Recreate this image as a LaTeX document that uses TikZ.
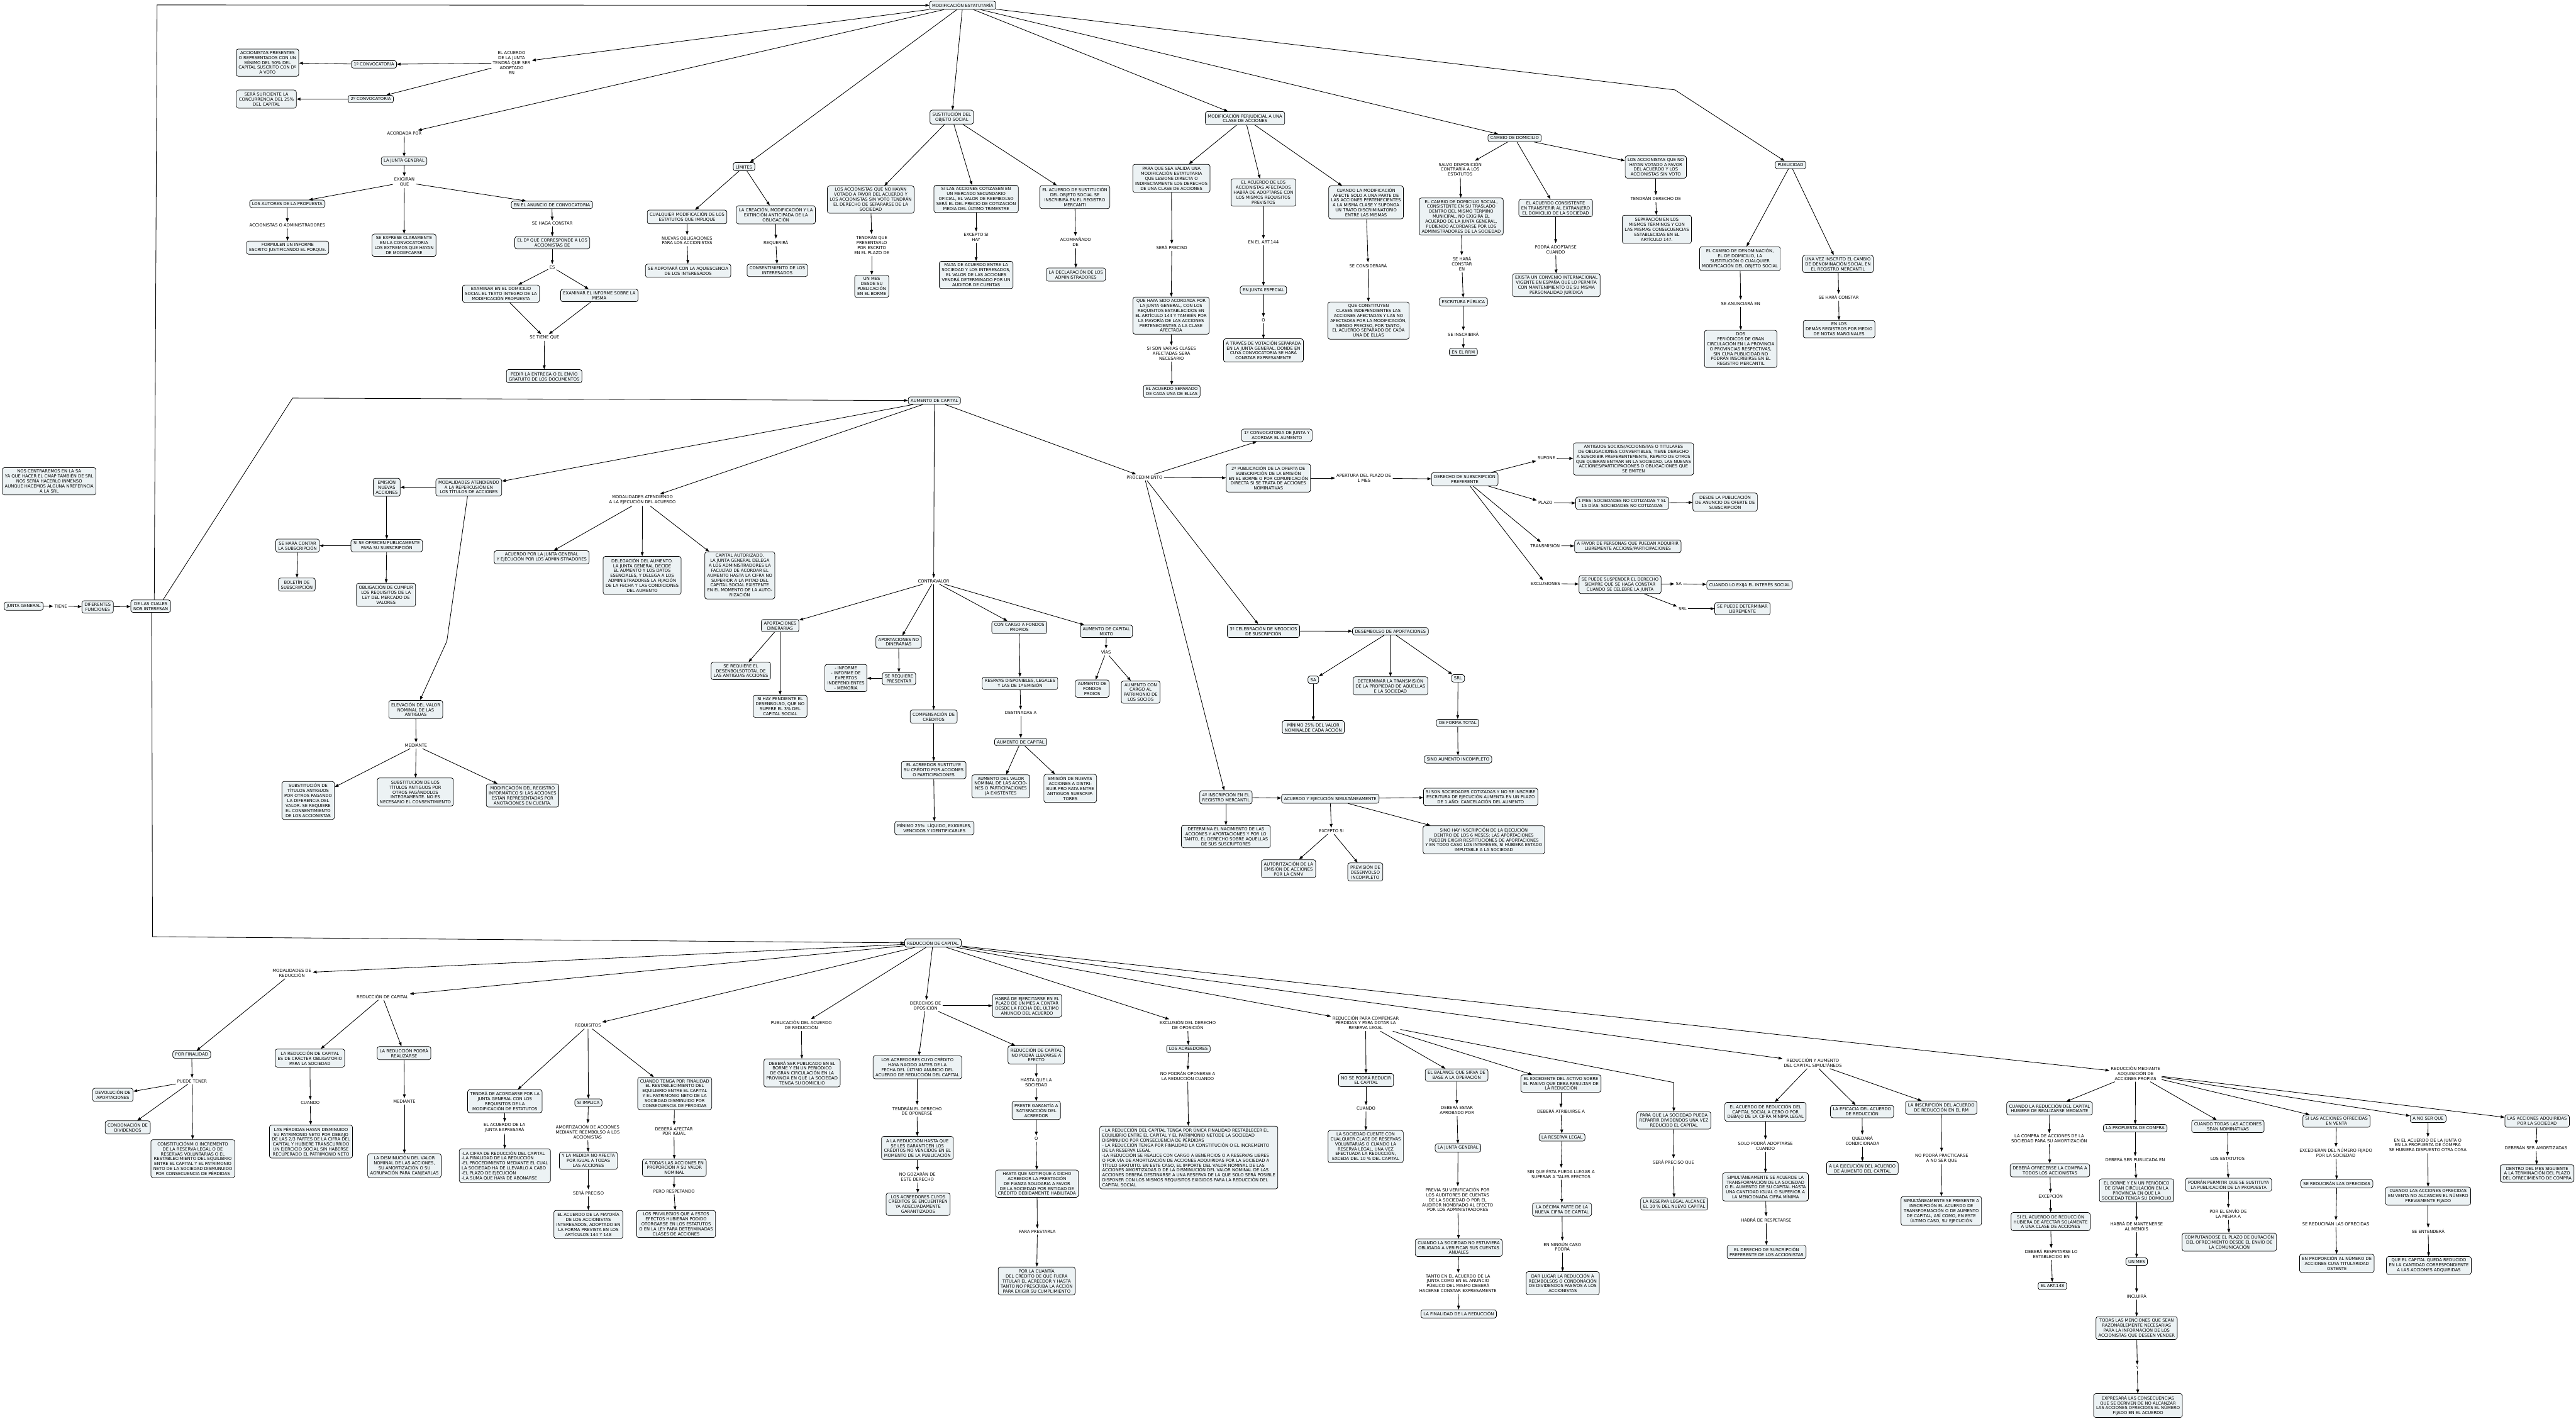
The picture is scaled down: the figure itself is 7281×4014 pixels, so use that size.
\documentclass[tikz,border=0pt]{standalone}
\usepackage{fontspec}
\setmainfont{DejaVu Sans}
\usetikzlibrary{arrows.meta}
\definecolor{nodefill}{RGB}{236,242,244}
\newcommand{\mapfont}{\fontsize{12}{14}\selectfont}
\tikzset{
  box/.style={draw=black, line width=1.3pt, rounded corners=6pt, fill=nodefill, align=center, inner xsep=7pt, inner ysep=6pt, font=\mapfont},
  lbl/.style={align=center, inner sep=4pt, font=\mapfont},
  arr/.style={draw=black, line width=1.5pt, -{Triangle[length=11pt,width=8pt]}},
}
\begin{document}
\begin{tikzpicture}[x=1pt,y=-1pt]
\fill[white] (0,0) rectangle (7281,4014);
\useasboundingbox (0,0) rectangle (7281,4014);

% ---------------- TOP BAND ----------------
\node[box] (modest) at (2721,15) {MODIFICACIÓN ESTATUTARÍA};
\node[lbl] (acjunta) at (1446,178) {EL ACUERDO\\DE LA JUNTA\\TENDRÁ QUE SER\\ADOPTADO\\EN};
\node[box] (conv1) at (1057,182) {1º CONVOCATORIA};
\node[box] (accpres) at (756,177) {ACCIONISTAS PRESENTES\\O REPRSENTADOS CON UN\\MÍNIMO DEL 50\% DEL\\CAPITAL SUSCRITO CON Dº\\A VOTO};
\node[box] (conv2) at (1048,280) {2º CONVOCATORIA};
\node[box] (sersuf) at (753,280) {SERÁ SUFICIENTE LA\\CONCURRENCIA DEL 25\%\\DEL CAPITAL};
\node[lbl] (acordada) at (1143,377) {ACORDADA POR};
\node[box] (jg1) at (1142,455) {LA JUNTA GENERAL};
\node[lbl] (exig) at (1143,515) {EXIGIRAN\\QUE};
\node[box] (autores) at (812,576) {LOS AUTORES DE LA PROPUESTA};
\node[lbl] (accadm) at (812,637) {ACCIONISTAS O ADMINISTRADORES};
\node[box] (formulen) at (813,700) {FORMULEN UN INFORME\\ESCRITO JUSTIFICANDO EL PORQUE.};
\node[box] (exprese) at (1142,693) {SE EXPRESE CLARAMENTE\\EN LA CONVOCATORIA\\LOS EXTREMOS QUE HAYAN\\DE MODIIFCARSE};
\node[box] (anuncio) at (1560,579) {EN EL ANUNCIO DE CONVOCATORIA};
\node[lbl] (hagacons) at (1561,632) {SE HAGA CONSTAR};
\node[box] (dcorresp) at (1561,686) {EL Dº QUE CORRESPONDE A LOS\\ACCIONISTAS DE};
\node[lbl] (es) at (1561,755) {ES};
\node[box] (exdom) at (1416,830) {EXAMINAR EN EL DOMICILIO\\SOCIAL EL TEXTO INTEGRO DE LA\\MODIFICACIÓN PROPUESTA};
\node[box] (exinf) at (1694,835) {EXAMINAR EL INFORME SOBRE LA\\MISMA};
\node[lbl] (setiene) at (1539,954) {SE TIENE QUE};
\node[box] (pedir) at (1538,1063) {PEDIR LA ENTREGA O EL ENVÍO\\GRATUITO DE LOS DOCUMENTOS};

\node[box] (limites) at (2103,471) {LÍMITES};
\node[box] (cualq) at (1942,613) {CUALQUIER MODIFICACIÓN DE LOS\\ESTATUTOS QUE IMPLIQUE};
\node[lbl] (nuevasob) at (1942,680) {NUEVAS OBLIGACIONES\\PARA LOS ACCIONISTAS};
\node[box] (aquies) at (1945,765) {SE ADPOTARÁ CON LA AQUIESCENCIA\\DE LOS INTERESADOS};
\node[box] (creacion) at (2193,607) {LA CREACIÓN, MODIFICACIÓN Y LA\\EXTINCIÓN ANTICIPADA DE LA\\OBLIGACIÓN};
\node[lbl] (requerira) at (2193,685) {REQUERIRÁ};
\node[box] (consent) at (2197,764) {CONSENTIMIENTO DE LOS\\INTERESADOS};

\node[box] (sustobj) at (2690,331) {SUSTITUCIÓN DEL\\OBJETO SOCIAL};
\node[box] (accnohayan) at (2461,564) {LOS ACCIONISTAS QUE NO HAYAN\\VOTADO A FAVOR DEL ACUERDO Y\\LOS ACCIONISTAS SIN VOTO TENDRÁN\\EL DERECHO DE SEPARARSE DE LA\\SOCIEDAD};
\node[lbl] (tendranq) at (2464,692) {TENDRÁN QUE\\PRESENTARLO\\POR ESCRITO\\EN EL PLAZO DE};
\node[box] (unmesa) at (2464,809) {UN MES\\DESDE SU\\PUBLICACIÓN\\EN EL BORME};
\node[box] (cotiz) at (2759,562) {SI LAS ACCIONES COTIZASEN EN\\UN MERCADO SECUNDARIO\\OFICIAL, EL VALOR DE REEMBOLSO\\SERÁ EL DEL PRECIO DE COTIZACIÓN\\MEDIA DEL ÚLTIMO TRIMESTRE};
\node[lbl] (exceptosi) at (2759,670) {EXCEPTO SI\\HAY};
\node[box] (falta) at (2759,777) {FALTA DE ACUERDO ENTRE LA\\SOCIEDAD Y LOS INTERESADOS,\\EL VALOR DE LAS ACCIONES\\VENDRÁ DETERMINADO POR UN\\AUDITOR DE CUENTAS};
\node[box] (acsust) at (3038,557) {EL ACUERDO DE SUSTITUCIÓN\\DEL OBJETO SOCIAL SE\\INSCRIBIRÁ EN EL REGISTRO\\MERCANTI};
\node[lbl] (acomp) at (3040,684) {ACOMPAÑADO\\DE};
\node[box] (declar) at (3041,776) {LA DECLARACIÓN DE LOS\\ADMINISTRADORES};

\node[box] (modperj) at (3519,334) {MODIFICACIÓN PERJUDICIAL A UNA\\CLASE DE ACCIONES};
\node[box] (paraq) at (3311,504) {PARA QUE SEA VÁLIDA UNA\\MODIFICACIÓN ESTATUTARIA\\QUE LESIONE DIRECTA O\\INDIRECTAMENTE LOS DERECHOS\\DE UNA CLASE DE ACCIONES};
\node[lbl] (serpreca) at (3312,699) {SERÁ PRECISO};
\node[box] (quehaya) at (3310,892) {QUE HAYA SIDO ACORDADA POR\\LA JUNTA GENERAL, CON LOS\\REQUISITOS ESTABLECIDOS EN\\EL ARTÍCULO 144 Y TAMBIÉN POR\\LA MAYORÍA DE LAS ACCIONES\\PERTENECIENTES A LA CLASE\\AFECTADA};
\node[lbl] (sison) at (3311,999) {SI SON VARIAS CLASES\\AFECTADAS SERÁ\\NECESARIO};
\node[box] (acsepa) at (3312,1106) {EL ACUERDO SEPARADO\\DE CADA UNA DE ELLAS};
\node[box] (acafect) at (3571,544) {EL ACUERDO DE LOS\\ACCIONISTAS AFECTADOS\\HABRÁ DE ADOPTARSE CON\\LOS MISMOS REQUISITOS\\PREVISTOS};
\node[lbl] (art144) at (3571,684) {EN EL ART.144};
\node[box] (jesp) at (3571,820) {EN JUNTA ESPECIAL};
\node[lbl] (oa) at (3571,905) {O};
\node[box] (votsep) at (3571,990) {A TRAVÉS DE VOTACIÓN SEPARADA\\EN LA JUNTA GENERAL, DONDE EN\\CUYA CONVOCATORIA SE HARÁ\\CONSTAR EXPRESAMENTE};
\node[box] (cuandomod) at (3861,572) {CUANDO LA MODIFICACIÓN\\AFECTE SOLO A UNA PARTE DE\\LAS ACCIONES PERTENECIENTES\\A LA MISMA CLASE Y SUPONGA\\UN TRATO DISCRIMINATORIO\\ENTRE LAS MISMAS};
\node[lbl] (secons) at (3867,751) {SE CONSIDERARÁ};
\node[box] (quecons) at (3868,906) {QUE CONSTITUYEN\\CLASES INDEPENDIENTES LAS\\ACCIONES AFECTADAS Y LAS NO\\AFECTADAS POR LA MODIFICACIÓN,\\SIENDO PRECISO, POR TANTO,\\EL ACUERDO SEPARADO DE CADA\\UNA DE ELLAS};

\node[box] (cambdom) at (4281,390) {CAMBIO DE DOMICILIO};
\node[lbl] (salvo) at (4127,478) {SALVO DISPOSICIÓN\\CONTRARÍA A LOS\\ESTATUTOS};
\node[box] (cambdomsoc) at (4130,612) {EL CAMBIO DE DOMICILIO SOCIAL,\\CONSISTENTE EN SU TRASLADO\\DENTRO DEL MISMO TÉRMINO\\MUNICIPAL, NO EXIGIRÁ EL\\ACUERDO DE LA JUNTA GENERAL,\\PUDIENDO ACORDARSE POR LOS\\ADMINISTRADORES DE LA SOCIEDAD};
\node[lbl] (seharac) at (4132,745) {SE HARÁ\\CONSTAR\\EN};
\node[box] (escrit) at (4136,853) {ESCRITURA PÚBLICA};
\node[lbl] (seinscr) at (4136,944) {SE INSCRIBIRÁ};
\node[box] (rrm) at (4136,995) {EN EL RRM};
\node[box] (transf) at (4397,588) {EL ACUERDO CONSISTENTE\\EN TRANSFERIR AL EXTRANJERO\\EL DOMICILIO DE LA SOCIEDAD};
\node[lbl] (podraad) at (4397,704) {PODRÁ ADOPTARSE\\CUANDO};
\node[box] (convenio) at (4399,806) {EXISTA UN CONVENIO INTERNACIONAL\\VIGENTE EN ESPAÑA QUE LO PERMITA\\CON MANTENIMIENTO DE SU MISMA\\PERSONALIDAD JURÍDICA};
\node[box] (accnohb) at (4680,472) {LOS ACCIONISTAS QUE NO\\HAYAN VOTADO A FAVOR\\DEL ACUERDO Y LOS\\ACCIONISTAS SIN VOTO};
\node[lbl] (tendder) at (4680,561) {TENDRÁN DERECHO DE};
\node[box] (separ) at (4683,648) {SEPARACIÓN EN LOS\\MISMOS TÉRMINOS Y CON\\LAS MISMAS CONSECUENCIAS\\ESTABLECIDAS EN EL\\ARTÍCULO 147.};
\node[box] (public) at (5061,466) {PUBLICIDAD};
\node[box] (cambden) at (4918,731) {EL CAMBIO DE DENOMINACIÓN,\\EL DE DOMICILIO, LA\\SUSTITUCIÓN O CUALQUIER\\MODIFICACIÓN DEL OBJETO SOCIAL};
\node[lbl] (seanun) at (4920,857) {SE ANUNCIARÁ EN};
\node[box] (dosper) at (4920,986) {DOS\\PERIÓDICOS DE GRAN\\CIRCULACIÓN EN LA PROVINCIA\\O PROVINCIAS RESPECTIVAS,\\SIN CUYA PUBLICIDAD NO\\PODRÁN INSCRIBIRSE EN EL\\REGISTRO MERCANTIL};
\node[box] (unavez) at (5195,746) {UNA VEZ INSCRITO EL CAMBIO\\DE DENOMINACIÓN SOCIAL EN\\EL REGISTRO MERCANTIL};
\node[lbl] (seharacb) at (5197,840) {SE HARÁ CONSTAR};
\node[box] (enlos) at (5198,930) {EN LOS\\DEMÁS REGISTROS POR MEDIO\\DE NOTAS MARGINALES};

% ---------------- MIDDLE BAND ----------------
\node[box] (nos) at (139,1360) {NOS CENTRAREMOS EN LA SA\\YA QUE HACER  EL CMAP TAMBIÉN DE SRL\\NOS SERÍA HACERLO INMENSO\\AUNQUE HACEMOS ALGUNA NREFERNCIA\\A LA SRL};
\node[box] (jgen) at (67,1713) {JUNTA GENERAL};
\node[lbl] (tiene) at (172,1713) {TIENE};
\node[box] (difer) at (276,1715) {DIFERENTES\\FUNCIONES};
\node[box] (dlc) at (426,1713) {DE LAS CUALES\\NOS INTERESAN};

\node[box] (modrep) at (1325,1377) {MODALIDADES ATENDIENDO\\A LA REPERCUSIÓN EN\\LOS TÍTULOS DE ACCIONES};
\node[box] (emision) at (1093,1377) {EMISIÓN\\NUEVAS\\ACCIONES};
\node[box] (siofrecen) at (1093,1542) {SI SE OFRECEN PUBLICAMENTE\\PARA SU SUBSCRIPCIÓN};
\node[box] (seharacontar) at (841,1542) {SE HARÁ CONTAR\\LA SUBSCRIPCIÓN};
\node[box] (boletin) at (839,1652) {BOLETÍN DE\\SUBSCRIPCIÓN};
\node[box] (oblig) at (1091,1681) {OBLIGACIÓN DE CUMPLIR\\LOS REQUISITOS DE LA\\LEY DEL MERCADO DE\\VALORES};
\node[box] (elev) at (1175,2005) {ELEVACIÓN DEL VALOR\\NOMINAL DE LAS\\ANTIGUAS};
\node[lbl] (mediantea) at (1176,2107) {MEDIANTE};
\node[box] (subsa) at (871,2262) {SUBSTITUCIÓN DE\\TÍTULOS ANTIGUOS\\POR OTROS PAGANDO\\LA DIFERENCIA DEL\\VALOR. SE REQUIERE\\EL CONSENTIMIENTO\\DE LOS ACCIONISTAS};
\node[box] (subsb) at (1174,2238) {SUBSTITUCIÓN DE LOS\\TÍTULOS ANTIGUOS POR\\OTROS PAGÁNDOLOS\\INTEGRAMENTE. NO ES\\NECESARIO EL CONSENTIMIENTO};
\node[box] (modreg) at (1477,2248) {MODIFICACIÓN DEL REGISTRO\\INFORMÁTICO SI LAS ACCIONES\\ESTÁN REPRESENTADAS POR\\ANOTACIONES EN CUENTA.};
\node[box] (acjg) at (1531,1575) {ACUERDO POR LA JUNTA GENERAL\\Y EJECUCIÓN POR LOS ADMINISTRADORES};

\node[box] (aum) at (2641,1132) {AUMENTO DE CAPITAL};
\node[lbl] (modejec) at (1816,1413) {MODALIDADES ATENDIENDO\\A LA EJECUCIÓN DEL ACUERDO};
\node[box] (deleg) at (1815,1626) {DELEGACIÓN DEL AUMENTO.\\LA JUNTA GENERAL DECIDE\\EL AUMENTO Y LOS DATOS\\ESENCIALES, Y DELEGA A LOS\\ADMINISTRADORES LA FIJACIÓN\\DE LA FECHA Y LAS CONDICIONES\\DEL AUMENTO};
\node[box] (capaut) at (2091,1626) {CAPITAL AUTORIZADO.\\LA JUNTA GENERAL DELEGA\\A LOS ADMINISTRADORES LA\\FACULTAD DE ACORDAR EL\\AUMENTO HASTA LA CIFRA NO\\SUPERIOR A LA MITAD DEL\\CAPITAL SOCIAL EXISTENTE\\EN EL MOMENTO DE LA AUTO-\\RIZACIÓN};
\node[lbl] (contrav) at (2639,1642) {CONTRAVALOR};
\node[box] (apdin) at (2205,1768) {APORTACIONES\\DINERARIAS};
\node[box] (sereqdes) at (2094,1896) {SE REQUIERE EL\\DESENBOLSOTOTAL DE\\LAS ANTIGUAS ACCIONES};
\node[box] (sihay) at (2205,1996) {SI HAY PENDIENTE EL\\DESENBOLSO, QUE NO\\SUPERE EL 3\% DEL\\CAPITAL SOCIAL};
\node[box] (apnodin) at (2540,1814) {APORTACIONES NO\\DINERARIAS};
\node[box] (sereqpres) at (2541,1918) {SE REQUIERE\\PRESENTAR};
\node[box] (informe) at (2391,1916) {- INFORME\\- INFORME DE\\EXPERTOS\\INDEPENDIENTES\\- MEMORIA};
\node[box] (compcred) at (2639,2025) {COMPENSACIÓN DE\\CRÉDITOS};
\node[box] (acreedor) at (2639,2176) {EL ACREEDOR SUSTITUYE\\SU CRÉDITO POR ACCIONES\\O PARTICIPACIONES};
\node[box] (minimoa) at (2641,2340) {MÍNIMO 25\%: LÍQUIDO, EXIGIBLES,\\VENCIDOS Y IDENTIFICABLES};
\node[box] (cargofp) at (2881,1773) {CON CARGO A FONDOS\\PROPIOS};
\node[box] (reservas) at (2883,1931) {RESRVAS DISPONIBLES, LEGALES\\Y LAS DE 1ª EMISIÓN};
\node[lbl] (destin) at (2885,2014) {DESTINADAS A};
\node[box] (aumb) at (2885,2097) {AUMENTO DE CAPITAL};
\node[box] (aumval) at (2829,2222) {AUMENTO DEL VALOR\\NOMINAL DE LAS ACCIO-\\NES O PARTICIPACIONES\\JA EXISTENTES};
\node[box] (emnuev) at (3025,2228) {EMISIÓN DE NUEVAS\\ACCIONES A DISTRI-\\BUIR PRO RATA ENTRE\\ANTIGUOS SUBSCRIP-\\TORES};
\node[box] (mixto) at (3127,1784) {AUMENTO DE CAPITAL\\MIXTO};
\node[lbl] (vias) at (3126,1843) {VÍAS};
\node[box] (fondprop) at (3087,1946) {AUMENTO DE\\FONDOS\\PROIOS};
\node[box] (patrim) at (3224,1956) {AUMENTO CON\\CARGO AL\\PATRIMONIO DE\\LOS SOCIOS};

\node[lbl] (proc) at (3235,1349) {PROCEDIMIENTO};
\node[box] (convja) at (3609,1230) {1º CONVOCATORIA DE JUNTA Y\\ACORDAR EL AUMENTO};
\node[box] (pubb) at (3585,1351) {2º PUBLICACIÓN DE LA OFERTA DE\\SUBSCRIPCIÓN DE LA EMISIÓN\\EN EL BORME O POR COMUNICACIÓN\\DIRECTA SI SE TRATA DE ACCIONES\\NOMINATIVAS};
\node[lbl] (apert) at (3855,1351) {APERTURA DEL PLAZO DE\\1 MES};
\node[box] (dsp) at (4140,1354) {DERECHO DE SUBSCRIPCIÓN\\PREFERENTE};
\node[lbl] (supone) at (4371,1295) {SUPONE};
\node[box] (antiguos) at (4617,1297) {ANTIGUOS SOCIOS/ACCIONISTAS O TITULARES\\DE OBLIGACIONES CONVERTIBLES, TIENE DERECHO\\A SUSCRIBIR  PREFERENTEMENTE, REPETO DE OTROS\\QUE QUIERAN ENTRAR EN LA SOCIEDAD, LAS NUEVAS\\ACCIONES/PARTICIPACIONES O OBLIGACIONES QUE\\SE EMITEN};
\node[lbl] (plazo) at (4368,1421) {PLAZO};
\node[box] (unmesb) at (4585,1422) {1 MES: SOCIEDADES NO COTIZADAS Y SL\\15 DÍAS: SOCIEDADES NO COTIZADAS};
\node[box] (desde) at (4876,1419) {DESDE LA PUBLICACIÓN\\DE ANUNCIO DE OFERTE DE\\SUBSCRIPCIÓN};
\node[lbl] (transm) at (4367,1542) {TRANSMISIÓN};
\node[box] (afavor) at (4601,1544) {A FAVOR DE PERSONAS QUE PUEDAN ADQUIRIR\\LIBREMENTE ACCIONS/PARTICIPACIONES};
\node[lbl] (exclus) at (4368,1649) {EXCLUSIONES};
\node[box] (susp) at (4579,1652) {SE PUEDE SUSPENDER EL DERECHO\\SIEMPRE QUE SE HAGA CONSTAR\\CUANDO SE CELEBRE LA JUNTA};
\node[lbl] (saa) at (4745,1650) {SA};
\node[box] (exija) at (4945,1653) {CUANDO LO EXIJA EL INTERÉS SOCIAL};
\node[lbl] (srla) at (4756,1720) {SRL};
\node[box] (determ) at (4925,1720) {SE PUEDE DETERMINAR\\LIBREMENTE};
\node[box] (celc) at (3571,1783) {3º CELEBRACIÓN DE NEGOCIOS\\DE SUSCRIPCIÓN};
\node[box] (desemb) at (3930,1784) {DESEMBOLSO DE APORTACIONES};
\node[box] (sab) at (3712,1921) {SA};
\node[box] (determtr) at (3930,1938) {DETERMINAR LA TRANSMISIÓN\\DE LA PROPIEDAD DE AQUELLAS\\E LA SOCIEDAD};
\node[box] (srlb) at (4121,1917) {SRL};
\node[box] (minb) at (3712,2055) {MÍNIMO 25\% DEL VALOR\\NOMINALDE CADA ACCIÓN};
\node[box] (formtot) at (4120,2043) {DE FORMA TOTAL};
\node[box] (sinoaum) at (4121,2146) {SINO AUMENTO INCOMPLETO};
\node[box] (inscd) at (3465,2253) {4º INSCRIPCIÓN EN EL\\REGISTRO MERCANTIL};
\node[box] (determina) at (3465,2364) {DETERMINA EL NACIMIENTO DE LAS\\ACCIONES Y APORTACIONES Y POR LO\\TANTO, EL DERECHO SOBRE AQUELLAS\\DE SUS SUSCRIPTORES};
\node[box] (acej) at (3760,2257) {ACUERDO Y EJECUCIÓN SIMULTÁNEAMENTE};
\node[box] (sisonb) at (4185,2252) {SI SON SOCIEDADES COTIZADAS Y NO SE INSCRIBE\\ESCRITURA DE EJECUCIÓN AUMENTA EN UN PLAZO\\DE 1 AÑO: CANCELACIÓN DEL AUMENTO};
\node[box] (sinohay) at (4194,2373) {SINO HAY INSCRIPCIÓN DE LA EJECUCIÓN\\DENTRO DE LOS 6 MESES: LAS APORTACIONES\\PUEDEN EXIGIR RESTITUCIONES DE APORTACIONES\\Y EN TODO CASO LOS INTERESES, SI HUBIERA ESTADO\\IMPUTABLE A LA SOCIEDAD};
\node[lbl] (exceptosib) at (3763,2348) {EXCEPTO SI};
\node[box] (autcnmv) at (3642,2455) {AUTORITZACIÓN DE LA\\EMISIÓN DE ACCIONES\\POR LA CNMV};
\node[box] (previs) at (3859,2464) {PREVISIÓN DE\\DESENVOLSO\\INCOMPLETO};

% ---------------- BOTTOM BAND ----------------
\node[box] (red) at (2637,2665) {REDUCCIÓN DE CAPITAL};
\node[lbl] (modred) at (825,2750) {MODALIDADES DE\\REDUCCIÓN};
\node[lbl] (redcap) at (1081,2816) {REDUCCIÓN DE CAPITAL};
\node[box] (porfin) at (542,2980) {POR FINALIDAD};
\node[lbl] (puedet) at (543,3055) {PUEDE TENER};
\node[box] (devol) at (319,3094) {DEVOLUCIÓN DE\\APORTACIONES};
\node[box] (condon) at (361,3186) {CONDONACIÓN DE\\DIVIDENDOS};
\node[box] (constit) at (545,3274) {CONSTITUCIÓNM O INCREMENTO\\DE LA RESERVA LEGAL O DE\\RESERVAS VOLUNTARIAS O EL\\RESTABLECIMIENTO DEL EQUILIBRIO\\ENTRE EL CAPITAL Y EL PATRIMONIO\\NETO DE LA SOCIEDAD DISMUNUIDO\\POR CONSECUENCIA DE PÉRDIDAS};
\node[box] (obligb) at (876,2990) {LA REDUCCIÓN DE CAPITAL\\ES DE CRÁCTER OBLIGATORIO\\PARA LA SOCIEDAD};
\node[lbl] (cuandoa) at (877,3117) {CUANDO};
\node[box] (perdidas) at (879,3226) {LAS PÉRDIDAS HAYAN DISMINUIDO\\SU PATRIMONIO NETO POR DEBAJO\\DE LAS 2/3 PARTES DE LA CIFRA DEL\\CAPITAL Y HUBIERE TRANSCURRIDO\\UN EJERCICIO SOCIAL SIN HABERSE\\RECUPERADO EL PATRIMONIO NETO};
\node[box] (podrareal) at (1142,2976) {LA REDUCCIÓN PODRÁ\\REALIZARSE};
\node[lbl] (medianteb) at (1143,3112) {MEDIANTE};
\node[box] (dismin) at (1143,3294) {LA DISMINUCIÓN DEL VALOR\\NOMINAL DE LAS ACCIONES,\\SU AMORTIZACIÓN O SU\\AGRUPACIÓN PARA CANJEARLAS};
\node[lbl] (requis) at (1662,2898) {REQUISITOS};
\node[box] (tendra) at (1427,3112) {TENDRÁ DE ACORDARSE POR LA\\JUNTA GENERAL CON LOS\\REQUISITOS DE LA\\MODIFICACIÓN DE ESTATUTOS};
\node[lbl] (acexpr) at (1426,3187) {EL ACUERDO DE LA\\JUNTA EXPRESARÁ};
\node[box, align=left] (listaa) at (1427,3294) {-LA CIFRA DE REDUCCIÓN DEL CAPITAL\\-LA FINALIDAD DE LA REDUCCIÓN\\-EL PROCEDIMIENTO MEDIANTE EL CUAL\\LA SOCIEDAD HA DE LLEVARLO A CABO\\-EL PLAZO DE EJECUCIÓN\\-LA SUMA QUE HAYA DE ABONARSE};
\node[box] (siimpl) at (1663,3116) {SI IMPLICA};
\node[lbl] (amort) at (1661,3198) {AMORTIZACIÓN DE ACCIONES\\MEDIANTE REEMBOLSO A LOS\\ACCIONISTAS};
\node[box] (ymedida) at (1663,3280) {Y LA MEDIDA NO AFECTA\\POR IGUAL A TODAS\\LAS ACCIONES};
\node[lbl] (serprecb) at (1663,3371) {SERÁ PRECISO};
\node[box] (acmay) at (1663,3460) {EL ACUERDO DE LA MAYORÍA\\DE LOS ACCIONISTAS\\INTERESADOS, ADOPTADO EN\\LA FORMA PREVISTA EN LOS\\ARTÍCULOS 144 Y 148};
\node[box] (cuandotenga) at (1907,3090) {CUANDO TENGA POR FINALIDAD\\EL RESTABLECIMIENTO DEL\\EQUILIBRIO ENTRE EL CAPITAL\\Y EL PATRIMONIO NETO DE LA\\SOCIEDAD DISMINUIDO POR\\CONSECUENCIA DE PÉRDIDAS};
\node[lbl] (debafect) at (1905,3196) {DEBERÁ AFECTAR\\POR IGUAL};
\node[box] (atodas) at (1906,3300) {A TODAS LAS ACCIONES EN\\PROPORCIÓN A SU VALOR\\NOMINAL};
\node[lbl] (perores) at (1905,3366) {PERO RESPETANDO};
\node[box] (privil) at (1911,3459) {LOS PRIVILEGIOS QUE A ESTOS\\EFECTOS HUBIERAN PODIDO\\OTORGARSE EN LOS ESTATUTOS\\O EN LA LEY PARA DETERMINADAS\\CLASES DE ACCIONES};
\node[lbl] (pubacu) at (2265,2897) {PUBLICACIÓN DEL ACUERDO\\DE REDUCCIÓN};
\node[box] (debpub) at (2267,3032) {DEBERÁ SER PUBLICADO EN EL\\BORME  Y EN UN PERIÓDICO\\DE GRAN CIRCULACIÓN EN LA\\PROVINCIA EN QUE LA SOCIEDAD\\TENGA SU DOMICILIO};
\node[lbl] (deropo) at (2616,2842) {DERECHOS DE\\OPOSICIÓN};
\node[box] (habra) at (2903,2842) {HABRÁ DE EJERCITARSE EN EL\\PLAZO DE UN MES A CONTAR\\DESDE LA FECHA DEL ÚLTIMO\\ANUNCIO DEL ACUERDO};
\node[box] (acreeda) at (2593,3016) {LOS ACREEDORES CUYO CRÉDITO\\HAYA NACIDO ANTES DE LA\\FECHA DEL ÚLTIMO ANUNCIO DEL\\ACUERDO DE REDUCCIÓN DEL CAPITAL};
\node[lbl] (tendrand) at (2592,3139) {TENDRÁN EL DERECHO\\DE OPONERSE};
\node[box] (alared) at (2593,3244) {A LA REDUCCIÓN HASTA QUE\\SE LES GARANTICEN LOS\\CRÉDITOS NO VENCIDOS EN EL\\MOMENTO DE LA PUBLICACIÓN};
\node[lbl] (nogoz) at (2593,3325) {NO GOZARÁN DE\\ESTE DERECHO};
\node[box] (acreedb) at (2595,3403) {LOS ACREEDORES CUYOS\\CRÉDITOS SE ENCUENTREN\\YA ADECUADAMENTE\\GARANTIZADOS};
\node[box] (rednopodra) at (2929,2981) {REDUCCIÓN DE CAPITAL\\NO PODRÁ LLEVARSE A\\EFECTO};
\node[lbl] (hastaq) at (2929,3060) {HASTA QUE LA\\SOCIEDAD};
\node[box] (preste) at (2929,3138) {PRESTE GARANTÍA A\\SATISFACCIÓN DEL\\ACREEDOR};
\node[lbl] (ob) at (2929,3218) {O};
\node[box] (notif) at (2931,3345) {HASTA QUE NOTIFIQUE A DICHO\\ACREEDOR LA PRESTACIÓN\\DE FIANZA SOLIDARIA A FAVOR\\DE LA SOCIEDAD POR ENTIDAD DE\\CRÉDITO DEBIDAMENTE HABILITADA};
\node[lbl] (paraprest) at (2932,3480) {PARA PRESTARLA};
\node[box] (cuantia) at (2930,3620) {POR LA CUANTÍA\\DEL CRÉDITO DE QUE FUERA\\TITULAR EL ACREEDOR Y HASTA\\TANTO NO PRESCRIBA LA ACCIÓN\\PARA EXIGIR SU CUMPLIMIENTO};
\node[box, align=left] (listab) at (3360,3271) {- LA REDUCCIÓN DEL CAPITAL TENGA POR ÚNICA FINALIDAD RESTABLECER EL\\EQUILIBRIO ENTRE EL CAPITAL Y EL PATRIMONIO NETODE LA SOCIEDAD\\DISMINUIDO POR CONSECUENCIA DE PÉRDIDAS\\- LA REDUCCIÓN TENGA POR FINALIDAD LA CONSTITUCIÓN O EL INCREMENTO\\DE LA RESERVA LEGAL\\-LA REDUCCIÓN SE REALICE CON CARGO A BENEFICIOS O A RESERVAS LIBRES\\O POR VÍA DE AMORTIZACIÓN DE ACCIONES ADQUIRIDAS POR LA SOCIEDAD A\\TÍTULO GRATUITO. EN ESTE CASO, EL IMPORTE DEL VALOR NOMINAL DE LAS\\ACCIONES AMORTIZADAS O DE LA DISMINUCIÓN DEL VALOR NOMINAL DE LAS\\ACCIONES DEBERÁ DESTINARSE A UNA RESERVA DE LA QUE SOLO SERÁ POSIBLE\\DISPONER CON LOS MISMOS REQUISITOS EXIGIDOS PARA LA REDUCCIÓN DEL\\CAPITAL SOCIAL};
\node[lbl] (exclusb) at (3357,2897) {EXCLUSIÓN DEL DERECHO\\DE OPOSICIÓN};
\node[box] (losacr) at (3359,2964) {LOS ACREEDORES};
\node[lbl] (nopodran) at (3357,3040) {NO PODRÁN OPONERSE A\\LA REDUCCIÓN CUANDO};
\node[lbl] (redcomp) at (3860,2890) {REDUCCIÓN PARA COMPENSAR\\PÉRDIDAS Y PARA DOTAR LA\\RESERVA LEGAL};
\node[box] (nosepodra) at (3861,3052) {NO SE PODRÁ REDUCIR\\EL CAPITAL};
\node[lbl] (cuandob) at (3861,3132) {CUANDO};
\node[box] (cuente) at (3860,3240) {LA SOCIEDAD CUENTE CON\\CUALQUIER CLASE DE RESERVAS\\VOLUNTARIAS O CUANDO LA\\RESERVA LEGAL, UNA VEZ\\EFECTUADA LA REDUCCIÓN,\\EXCEDA DEL 10 \% DEL CAPITAL};
\node[box] (balance) at (4117,3038) {EL BALANCE QUE SIRVA DE\\BASE A LA OPERACIÓN};
\node[lbl] (debestar) at (4118,3137) {DEBERÁ ESTAR\\APROBADO POR};
\node[box] (jgb) at (4121,3244) {LA JUNTA GENERAL};
\node[lbl] (previa) at (4120,3390) {PREVIA SU VERIFICACIÓN POR\\LOS AUDITORES DE CUENTAS\\DE LA SOCIEDAD O POR EL\\AUDITOR NOMBRADO AL EFECTO\\POR LOS ADMINISTRADORES};
\node[box] (nobligada) at (4123,3526) {CUANDO LA SOCIEDAD NO ESTUVIERA\\OBLIGADA A VERIFICAR SUS CUENTAS\\ANUALES};
\node[lbl] (tanto) at (4121,3627) {TANTO EN EL ACUERDO DE LA\\JUNTA COMO EN EL ANUNCIO\\PÚBLICO DEL MISMO DEBERÁ\\HACERSE CONSTAR EXPRESAMENTE};
\node[box] (finalidad) at (4123,3713) {LA FINALIDAD DE LA REDUCCIÓN};
\node[box] (excedente) at (4412,3062) {EL EXCEDENTE DEL ACTIVO SOBRE\\EL PASIVO QUE DEBA RESULTAR DE\\LA REDUCCIÓN};
\node[lbl] (debatrib) at (4412,3140) {DEBERÁ ATRIBUIRSE A};
\node[box] (reslegal) at (4415,3214) {LA RESERVA LEGAL};
\node[lbl] (sinque) at (4412,3317) {SIN QUE ÉSTA PUEDA LLEGAR A\\SUPERAR A TALES EFECTOS};
\node[box] (decima) at (4415,3418) {LA DÉCIMA PARTE DE LA\\NUEVA CIFRA DE CAPITAL};
\node[lbl] (enning) at (4416,3523) {EN NINGÚN CASO\\PODRÁ};
\node[box] (darlugar) at (4417,3626) {DAR LUGAR LA REDUCCIÓN A\\REEMBOLSOS O CONDONACIÓN\\DE DIVIDENDOS PASIVOS A LOS\\ACCIONISTAS};
\node[box] (paraque) at (4731,3166) {PARA QUE LA SOCIEDAD PUEDA\\REPARTIR DIVIDENDOS UNA VEZ\\REDUCIDO EL CAPITAL};
\node[lbl] (serpq) at (4730,3284) {SERÁ PRECISO QUE};
\node[box] (alcance) at (4732,3402) {LA RESERVA LEGAL ALCANCE\\EL 10 \% DEL NUEVO CAPITAL};
\node[lbl] (redaum) at (5124,3003) {REDUCCIÓN Y AUMENTO\\DEL CAPITAL SIMULTÁNEOS};
\node[box] (acero) at (4990,3142) {EL ACUERDO DE REDUCCIÓN DEL\\CAPITAL SOCIAL A CERO O POR\\DEBAJO DE LA CIFRA MÍNIMA LEGAL};
\node[lbl] (solopodra) at (4990,3237) {SOLO PODRÁ ADOPTARSE\\CUANDO};
\node[box] (simult) at (4990,3354) {SIMULTÁNEAMENTE SE ACUERDE LA\\TRANSFORMACIÓN DE LA SOCIEDAD\\O EL AUMENTO DE SU CAPITAL HASTA\\UNA CANTIDAD IGUAL O SUPERIOR A\\LA MENCIONADA CIFRA MÍNIMA};
\node[lbl] (habrares) at (4992,3447) {HABRÁ DE RESPETARSE};
\node[box] (dspb) at (4993,3538) {EL DERECHO DE SUSCRIPCIÓN\\PREFERENTE DE LOS ACCIONISTAS};
\node[box] (eficacia) at (5263,3141) {LA EFICACIA DEL ACUERDO\\DE REDUCCIÓN};
\node[lbl] (quedara) at (5264,3223) {QUEDARÁ\\CONDICIONADA};
\node[box] (aejec) at (5264,3301) {A LA EJECUCIÓN DEL ACUERDO\\DE AUMENTO DEL CAPITAL};
\node[box] (inscrrm) at (5487,3130) {LA INSCRIPCIÓN DEL ACUERDO\\DE REDUCCIÓN EN EL RM};
\node[lbl] (nopract) at (5488,3272) {NO PODRÁ PRACTICARSE\\A NO SER QUE};
\node[box] (simpres) at (5487,3422) {SIMULTÁNEAMENTE SE PRESENTE A\\INSCRIPCIÓN EL ACUERDO DE\\TRANSFORMACIÓN O DE AUMENTO\\DE CAPITAL, ASÍ COMO, EN ESTE\\ÚLTIMO CASO, SU EJECUCIÓN};
\node[box] (cuandored) at (5793,3132) {CUANDO LA REDUCCIÓN DEL CAPITAL\\HUBIERE DE REALIZARSE MEDIANTE};
\node[lbl] (compra) at (5792,3218) {LA COMPRA DE ACCIONES DE LA\\SOCIEDAD PARA SU AMORTIZACIÓN};
\node[box] (debofrec) at (5794,3307) {DEBERÁ OFRECERSE LA COMPRA A\\TODOS LOS ACCIONISTAS};
\node[lbl] (excepcion) at (5796,3380) {EXCEPCIÓN};
\node[box] (siacred) at (5796,3452) {SI EL ACUERDO DE REDUCCIÓN\\HUBIERA DE AFECTAR SOLAMENTE\\A UNA CLASE DE ACCIONES};
\node[lbl] (debresp) at (5798,3544) {DEBERÁ RESPETARSE LO\\ESTABLECIDO EN};
\node[box] (art148) at (5801,3634) {EL ART.148};
\node[lbl] (redadq) at (6036,3033) {REDUCCIÓN MEDIANTE\\ADQUISICIÓN DE\\ACCIONES PROPIAS};
\node[box] (propcompra) at (6035,3188) {LA PROPUESTA DE COMPRA};
\node[lbl] (debpubl) at (6035,3277) {DEBERÁ SER PUBLICADA EN};
\node[box] (borme) at (6039,3364) {EL BORME Y EN UN PERIÓDICO\\DE GRAN CIRCULACIÓN EN LA\\PROVINCIA EN QUE LA\\SOCIEDAD TENGA SU DOMICILIO};
\node[lbl] (habmant) at (6039,3466) {HABRÁ DE MANTENERSE\\AL MENOIS};
\node[box] (unmesc) at (6039,3565) {UN MES};
\node[lbl] (incluira) at (6039,3662) {INCLUIRÁ};
\node[box] (menciones) at (6039,3753) {TODAS LAS MENCIONES QUE SEAN\\RAZONABLEMENTE NECESARIAS\\PARA LA INFORMACIÓN DE LOS\\ACCIONISTAS QUE DESEEN VENDER};
\node[lbl] (ya) at (6041,3865) {Y};
\node[box] (expresara) at (6043,3972) {EXPRESARÁ LAS CONSECUENCIAS\\QUE SE DERIVEN DE NO ALCANZAR\\LAS ACCIONES OFRECIDAS EL NÚMERO\\FIJADO EN EL ACUERDO};
\node[box] (todasnom) at (6297,3183) {CUANDO TODAS LAS ACCIONES\\SEAN NOMINATIVAS};
\node[lbl] (estatutos) at (6296,3275) {LOS ESTATUTOS};
\node[box] (podranperm) at (6299,3348) {PODRÁN PERMITIR QUE SE SUSTITUYA\\LA PUBLICACIÓN DE LA PROPUESTA};
\node[lbl] (porenvio) at (6298,3430) {POR EL ENVÍO DE\\LA MISMA A};
\node[box] (computando) at (6301,3510) {COMPUTÁNDOSE EL PLAZO DE DURACIÓN\\DEL OFRECIMIENTO DESDE EL ENVÍO DE\\LA COMUNICACIÓN};
\node[box] (siofrec) at (6604,3168) {SI LAS ACCIONES OFRECIDAS\\EN VENTA};
\node[lbl] (excedieran) at (6602,3258) {EXCEDIERAN DEL NÚMERO FIJADO\\POR LA SOCIEDAD};
\node[box] (sereduca) at (6605,3345) {SE REDUCIRÁN LAS OFRECIDAS};
\node[lbl] (sereducb) at (6602,3458) {SE REDUCIRÁN LAS OFRECIDAS};
\node[box] (enprop) at (6605,3570) {EN PROPORCIÓN AL NÚMERO DE\\ACCIONES CUYA TITULARIDAD\\OSTENTE};
\node[box] (anoser) at (6863,3161) {A NO SER QUE};
\node[lbl] (enelac) at (6862,3236) {EN EL ACUERDO DE LA JUNTA O\\EN LA PROPUESTA DE COMPRA\\SE HUBIERA DISPUESTO OTRA COSA};
\node[box] (cuandoacc) at (6863,3380) {CUANDO LAS ACCIONES OFRECIDAS\\EN VENTA NO ALCANCEN EL NÚMERO\\PREVIAMENTE FIJADO};
\node[lbl] (seentendera) at (6863,3479) {SE ENTENDERÁ};
\node[box] (quecap) at (6865,3576) {QUE EL CAPITAL QUEDA REDUCIDO\\EN LA CANTIDAD CORRESPONDIENTE\\A LAS ACCIONES ADQUIRIDAS};
\node[box] (accadq) at (7171,3168) {LAS ACCIONES ADQUIRIDAS\\POR LA SOCIEDAD};
\node[lbl] (debamort) at (7168,3243) {DEBERÁN SER AMORTIZADAS};
\node[box] (dentro) at (7171,3316) {DENTRO DEL MES SIGUIENTE\\A LA TERMINACIÓN DEL PLAZO\\DEL OFRECIMIENTO DE COMPRA};

% ---------------- bend points ----------------
\coordinate (ba) at (444,14);
\coordinate (bb) at (827,1125);
\coordinate (bc) at (431,2647);
\coordinate (bd) at (4734,254);
\coordinate (be) at (4731,3059);
\coordinate (bf) at (1263,1812);

% ---------------- connectors ----------------
\draw[arr] ([xshift=10pt]dlc.north) -- (ba) -- (modest);
\draw[arr] ([xshift=35pt]dlc.north) -- (bb) -- (aum);
\draw[arr] ([xshift=3pt]dlc.south) -- (bc) -- (red);
\draw[arr] (modest) -- (bd) -- (public);
\draw[arr] (modrep) -- (bf) -- (elev);
\draw[arr] (redcomp) -- (be) -- (paraque);

\foreach \a/\b in {
 jgen/tiene, tiene/difer, difer/dlc,
 modest/acjunta, modest/acordada, modest/limites, modest/sustobj, modest/modperj, modest/cambdom,
 acjunta/conv1, acjunta/conv2, conv1/accpres, conv2/sersuf,
 acordada/jg1, jg1/exig, exig/autores, exig/exprese, exig/anuncio,
 autores/accadm, accadm/formulen,
 anuncio/hagacons, hagacons/dcorresp, dcorresp/es, es/exdom, es/exinf, exdom/setiene, exinf/setiene, setiene/pedir,
 limites/cualq, cualq/nuevasob, nuevasob/aquies, limites/creacion, creacion/requerira, requerira/consent,
 sustobj/accnohayan, accnohayan/tendranq, tendranq/unmesa,
 sustobj/cotiz, cotiz/exceptosi, exceptosi/falta,
 sustobj/acsust, acsust/acomp, acomp/declar,
 modperj/paraq, paraq/serpreca, serpreca/quehaya, quehaya/sison, sison/acsepa,
 modperj/acafect, acafect/art144, art144/jesp, jesp/oa, oa/votsep,
 modperj/cuandomod, cuandomod/secons, secons/quecons,
 cambdom/salvo, salvo/cambdomsoc, cambdomsoc/seharac, seharac/escrit, escrit/seinscr, seinscr/rrm,
 cambdom/transf, transf/podraad, podraad/convenio,
 cambdom/accnohb, accnohb/tendder, tendder/separ,
 public/cambden, cambden/seanun, seanun/dosper,
 public/unavez, unavez/seharacb, seharacb/enlos,
 aum/modrep, aum/modejec, aum/contrav, aum/proc,
 modrep/emision, emision/siofrecen, siofrecen/seharacontar, seharacontar/boletin, siofrecen/oblig,
 elev/mediantea, mediantea/subsa, mediantea/subsb, mediantea/modreg,
 modejec/acjg, modejec/deleg, modejec/capaut,
 contrav/apdin, contrav/apnodin, contrav/compcred, contrav/cargofp, contrav/mixto,
 apdin/sereqdes, apdin/sihay, apnodin/sereqpres, sereqpres/informe,
 compcred/acreedor, acreedor/minimoa,
 cargofp/reservas, reservas/destin, destin/aumb, aumb/aumval, aumb/emnuev,
 mixto/vias, vias/fondprop, vias/patrim,
 proc/convja, proc/pubb, proc/celc, proc/inscd,
 pubb/apert, apert/dsp, dsp/supone, supone/antiguos,
 dsp/plazo, plazo/unmesb, unmesb/desde, dsp/transm, transm/afavor,
 dsp/exclus, exclus/susp, susp/saa, saa/exija, susp/srla, srla/determ,
 celc/desemb, desemb/sab, sab/minb, desemb/determtr, desemb/srlb, srlb/formtot, formtot/sinoaum,
 inscd/determina, inscd/acej, acej/sisonb, acej/sinohay, acej/exceptosib, exceptosib/autcnmv, exceptosib/previs,
 red/modred, red/redcap, red/requis, red/pubacu, red/deropo, red/exclusb, red/redcomp, red/redaum, red/redadq,
 modred/porfin, porfin/puedet, puedet/devol, puedet/condon, puedet/constit,
 redcap/obligb, obligb/cuandoa, cuandoa/perdidas, redcap/podrareal, podrareal/medianteb, medianteb/dismin,
 requis/tendra, tendra/acexpr, acexpr/listaa,
 requis/siimpl, siimpl/amort, amort/ymedida, ymedida/serprecb, serprecb/acmay,
 requis/cuandotenga, cuandotenga/debafect, debafect/atodas, atodas/perores, perores/privil,
 pubacu/debpub,
 deropo/habra, deropo/acreeda, acreeda/tendrand, tendrand/alared, alared/nogoz, nogoz/acreedb,
 deropo/rednopodra, rednopodra/hastaq, hastaq/preste, preste/ob, ob/notif, notif/paraprest, paraprest/cuantia,
 exclusb/losacr, losacr/nopodran, nopodran/listab,
 redcomp/nosepodra, nosepodra/cuandob, cuandob/cuente,
 redcomp/balance, balance/debestar, debestar/jgb, jgb/previa, previa/nobligada, nobligada/tanto, tanto/finalidad,
 redcomp/excedente, excedente/debatrib, debatrib/reslegal, reslegal/sinque, sinque/decima, decima/enning, enning/darlugar,
 paraque/serpq, serpq/alcance,
 redaum/acero, acero/solopodra, solopodra/simult, simult/habrares, habrares/dspb,
 redaum/eficacia, eficacia/quedara, quedara/aejec,
 redaum/inscrrm, inscrrm/nopract, nopract/simpres,
 redadq/cuandored, cuandored/compra, compra/debofrec, debofrec/excepcion, excepcion/siacred, siacred/debresp, debresp/art148,
 redadq/propcompra, propcompra/debpubl, debpubl/borme, borme/habmant, habmant/unmesc, unmesc/incluira, incluira/menciones, menciones/ya, ya/expresara,
 redadq/todasnom, todasnom/estatutos, estatutos/podranperm, podranperm/porenvio, porenvio/computando,
 redadq/siofrec, siofrec/excedieran, excedieran/sereduca, sereduca/sereducb, sereducb/enprop,
 redadq/anoser, anoser/enelac, enelac/cuandoacc, cuandoacc/seentendera, seentendera/quecap,
 redadq/accadq, accadq/debamort, debamort/dentro}
 {\draw[arr] (\a) -- (\b);}

\end{tikzpicture}
\end{document}
